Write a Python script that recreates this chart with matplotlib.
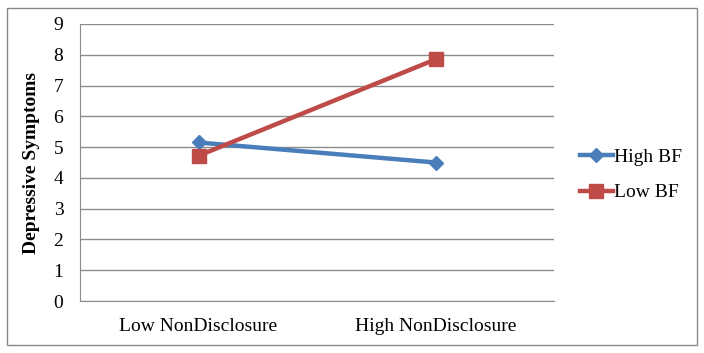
import matplotlib
matplotlib.use("Agg")
import matplotlib.pyplot as plt
from matplotlib.patches import Rectangle

categories = ["Low NonDisclosure", "High NonDisclosure"]
high_bf = [5.15, 4.5]
low_bf = [4.72, 7.85]
yticks = [0, 1, 2, 3, 4, 5, 6, 7, 8, 9]

plt.rcParams['font.family'] = ['Liberation Serif', 'DejaVu Serif']

fig = plt.figure(figsize=(7.04, 3.53), dpi=100)
fig.patches.append(Rectangle((7/704, 8/353), 690/704, 337/353, transform=fig.transFigure,
                             fill=False, edgecolor='#888888', linewidth=1.0))
ax = fig.add_axes([80/704, 1 - 301/353, 474/704, 277/353])

x = list(range(len(categories)))
ax.plot(x, high_bf, color='#4A7EBB', linewidth=3.2, marker='D', markersize=7, label='High BF')
ax.plot(x, low_bf, color='#BE4B48', linewidth=3.2, marker='s', markersize=10, label='Low BF')

ax.set_xlim(-0.5, 1.5)
ax.set_ylim(0, 9)
ax.set_yticks(yticks)
ax.set_yticklabels([str(v) for v in yticks], fontsize=14)
ax.set_xticks(x)
ax.set_xticklabels(categories, fontsize=14)
ax.tick_params(axis='both', length=0)
ax.tick_params(axis='y', pad=12)
ax.tick_params(axis='x', pad=12)
ax.yaxis.grid(True, color='#8c8c8c', linewidth=1.0)
ax.set_axisbelow(True)
for s in ['top', 'right']:
    ax.spines[s].set_visible(False)
ax.spines['left'].set_color('#8c8c8c')
ax.spines['bottom'].set_color('#8c8c8c')
ax.set_ylabel('Depressive Symptoms', fontsize=14, fontweight='bold', labelpad=10)

fig.legend(loc='center left', bbox_to_anchor=(562/704, 1 - 175/353), frameon=False,
           fontsize=14, handlelength=1.7, handletextpad=0.05, labelspacing=0.9)

fig.savefig('out.png', dpi=100)
